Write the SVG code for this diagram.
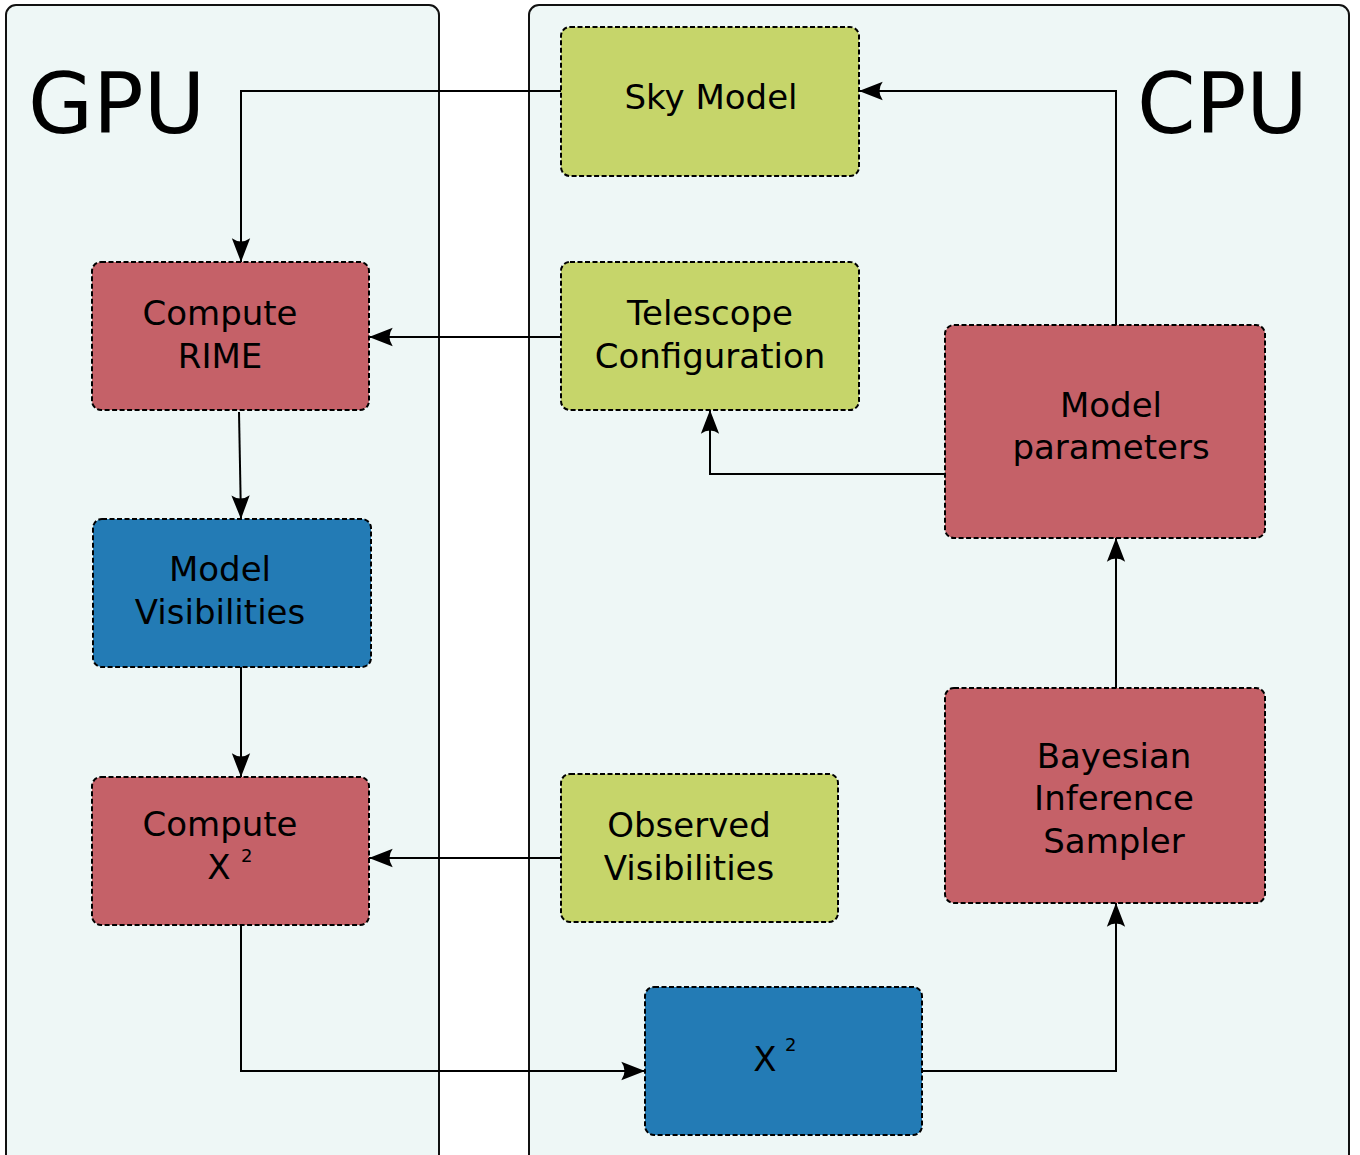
<svg xmlns="http://www.w3.org/2000/svg" width="1360" height="1155" viewBox="0 0 1360 1155">
<style>
.panel{fill:#eef7f6;stroke:#111;stroke-width:2}
.node{stroke:#000;stroke-width:2;stroke-dasharray:5,2.5}
.green{fill:#c6d56a}
.red{fill:#c56168}
.blue{fill:#237bb5}
.t{font-family:"DejaVu Sans",sans-serif;font-size:34px;fill:#000;text-anchor:middle}
.big{font-family:"DejaVu Sans",sans-serif;font-size:84px;fill:#000}
.sup{font-family:"DejaVu Sans",sans-serif;font-size:18px;fill:#000}
.edge{fill:none;stroke:#000;stroke-width:2;marker-end:url(#ah)}
</style>
<defs>
<marker id="ah" markerUnits="userSpaceOnUse" markerWidth="28" markerHeight="22" viewBox="-24 -10 26 20" refX="0" refY="0" orient="auto">
<path d="M0,0 L-22,-8.5 Q-16,0 -22,8.5 Z" fill="#000"/>
</marker>
</defs>
<g id="gpu-panel"><rect class="panel" x="6" y="5" width="433" height="1170" rx="10"/><text class="big" x="28" y="133">GPU</text></g>
<g id="cpu-panel"><rect class="panel" x="529" y="5" width="820" height="1170" rx="10"/><text class="big" x="1137" y="133">CPU</text></g>
<g id="connectors">
<path class="edge" d="M561,91 H241 V262"/>
<path class="edge" d="M1116,325 V91 H859"/>
<path class="edge" d="M561,337 H369"/>
<path class="edge" d="M945,474 H710 V410"/>
<path class="edge" d="M239,412 L241,519"/>
<path class="edge" d="M241,667 V777"/>
<path class="edge" d="M561,858 H369"/>
<path class="edge" d="M241,925 V1071 H645"/>
<path class="edge" d="M922,1071 H1116 V903"/>
<path class="edge" d="M1116,688 V538"/>
</g>
<g id="sky-model"><rect class="node green" x="561" y="27" width="298" height="149" rx="9"/><text class="t" x="711" y="109">Sky Model</text></g>
<g id="compute-rime"><rect class="node red" x="92" y="262" width="277" height="148" rx="9"/><text class="t" x="220" y="325">Compute</text><text class="t" x="220" y="368">RIME</text></g>
<g id="telescope-config"><rect class="node green" x="561" y="262" width="298" height="148" rx="9"/><text class="t" x="710" y="325">Telescope</text><text class="t" x="710" y="368">Configuration</text></g>
<g id="model-parameters"><rect class="node red" x="945" y="325" width="320" height="213" rx="9"/><text class="t" x="1111" y="417">Model</text><text class="t" x="1111" y="459">parameters</text></g>
<g id="model-visibilities"><rect class="node blue" x="93" y="519" width="278" height="148" rx="9"/><text class="t" x="220" y="581">Model</text><text class="t" x="220" y="624">Visibilities</text></g>
<g id="compute-chi2"><rect class="node red" x="92" y="777" width="277" height="148" rx="9"/><text class="t" x="219" y="879">X</text><text class="t" x="220" y="836">Compute</text><text class="sup" x="241" y="862">2</text></g>
<g id="observed-visibilities"><rect class="node green" x="561" y="774" width="277" height="148" rx="9"/><text class="t" x="689" y="837">Observed</text><text class="t" x="689" y="880">Visibilities</text></g>
<g id="bayesian-sampler"><rect class="node red" x="945" y="688" width="320" height="215" rx="9"/><text class="t" x="1114" y="768">Bayesian</text><text class="t" x="1114" y="810">Inference</text><text class="t" x="1114" y="853">Sampler</text></g>
<g id="chi2"><rect class="node blue" x="645" y="987" width="277" height="148" rx="9"/><text class="t" x="765" y="1071">X</text><text class="sup" x="785" y="1051">2</text></g>
</svg>
